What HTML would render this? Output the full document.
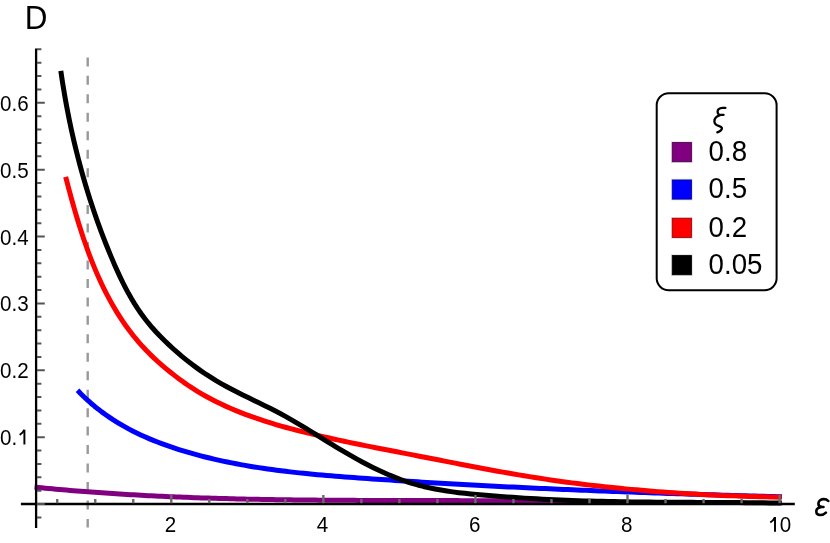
<!DOCTYPE html>
<html><head><meta charset="utf-8"><title>D vs epsilon</title>
<style>html,body{margin:0;padding:0;background:#fff;}body{width:830px;height:543px;overflow:hidden;}svg{display:block;will-change:transform;transform:translateZ(0);}text{font-family:"Liberation Sans",sans-serif;fill:#000;}</style></head><body>
<svg width="830" height="543" viewBox="0 0 830 543">
<rect x="0" y="0" width="830" height="543" fill="#ffffff"/>
<line x1="87.7" y1="57.4" x2="87.7" y2="527.6" stroke="#999999" stroke-width="2.4" stroke-dasharray="9 9.46"/>
<path d="M34.56,487.08 L38.11,487.44 L41.65,487.80 L45.20,488.14 L48.74,488.48 L52.29,488.82 L55.83,489.14 L59.38,489.46 L62.92,489.78 L66.47,490.09 L70.02,490.39 L73.56,490.69 L77.11,490.98 L80.66,491.26 L84.21,491.54 L87.76,491.81 L91.30,492.08 L94.85,492.34 L98.40,492.60 L101.95,492.85 L105.50,493.10 L109.05,493.34 L112.60,493.57 L116.15,493.80 L119.70,494.02 L123.25,494.24 L126.81,494.46 L130.36,494.66 L133.91,494.87 L137.46,495.07 L141.01,495.26 L144.56,495.45 L148.12,495.64 L151.67,495.81 L155.22,495.99 L158.78,496.16 L162.33,496.33 L165.88,496.49 L169.44,496.65 L172.99,496.80 L176.55,496.95 L180.10,497.09 L183.65,497.23 L187.21,497.37 L190.76,497.50 L194.32,497.63 L197.88,497.76 L201.43,497.88 L204.99,498.00 L208.54,498.11 L212.10,498.22 L215.65,498.33 L219.21,498.43 L222.77,498.53 L226.32,498.62 L229.88,498.72 L233.44,498.81 L236.99,498.89 L240.55,498.98 L244.11,499.06 L247.67,499.14 L251.22,499.21 L254.78,499.28 L258.34,499.35 L261.90,499.42 L265.46,499.48 L269.01,499.54 L272.57,499.60 L276.13,499.65 L279.69,499.71 L283.25,499.76 L286.81,499.81 L290.37,499.85 L293.93,499.90 L297.48,499.94 L301.04,499.98 L304.60,500.02 L308.16,500.05 L311.72,500.09 L315.28,500.12 L318.84,500.15 L322.40,500.18 L325.96,500.20 L329.52,500.23 L333.08,500.25 L336.64,500.28 L340.20,500.30 L343.76,500.32 L347.32,500.34 L350.88,500.35 L354.44,500.37 L358.00,500.38 L361.56,500.40 L365.12,500.41 L368.68,500.42 L372.24,500.43 L375.80,500.45 L379.36,500.46 L382.92,500.46 L386.48,500.47 L390.04,500.48 L393.60,500.49 L397.16,500.50 L400.72,500.50 L404.28,500.51 L407.84,500.52 L411.40,500.52 L414.96,500.53 L418.52,500.53 L422.08,500.54 L425.64,500.55 L429.20,500.55 L432.76,500.56 L436.32,500.57 L439.88,500.57 L443.44,500.58 L447.00,500.59 L450.56,500.60 L454.12,500.61 L457.68,500.62 L461.24,500.63 L464.80,500.64 L468.36,500.65 L471.92,500.66 L475.48,500.68 L479.04,500.69 L482.59,500.71 L486.15,500.72 L489.71,500.74 L493.27,500.76 L496.83,500.78 L500.39,500.80 L503.95,500.83 L507.51,500.85 L511.06,500.88 L514.62,500.91 L518.18,500.94 L521.74,500.97 L525.30,501.00 L528.85,501.04 L532.41,501.08 L535.97,501.12 L539.53,501.16 L543.08,501.20 L546.64,501.25 L550.20,501.29 L553.75,501.34 L557.31,501.40 L560.87,501.45 L564.42,501.51 L567.98,501.57 L571.54,501.63 L575.09,501.70 L578.65,501.77 L582.20,501.84 L585.76,501.91 L589.31,501.99 L592.87,502.07 L596.42,502.15 L599.98,502.23" fill="none" stroke="#800080" stroke-width="5.0" stroke-linecap="butt" stroke-linejoin="round"/>
<path d="M77.53,390.29 L80.79,393.68 L84.12,396.97 L87.51,400.15 L90.97,403.23 L94.49,406.21 L98.07,409.09 L101.70,411.87 L105.39,414.56 L109.14,417.16 L112.93,419.67 L116.78,422.09 L120.67,424.43 L124.60,426.68 L128.58,428.86 L132.60,430.95 L136.66,432.97 L140.76,434.92 L144.89,436.80 L149.05,438.61 L153.24,440.35 L157.46,442.03 L161.71,443.65 L165.98,445.21 L170.28,446.71 L174.59,448.16 L178.92,449.56 L183.26,450.90 L187.62,452.20 L191.99,453.45 L196.38,454.66 L200.77,455.83 L205.17,456.96 L209.58,458.04 L214.00,459.09 L218.42,460.10 L222.86,461.07 L227.30,462.01 L231.76,462.91 L236.22,463.77 L240.68,464.60 L245.16,465.40 L249.64,466.17 L254.13,466.91 L258.62,467.62 L263.12,468.30 L267.63,468.96 L272.14,469.59 L276.65,470.19 L281.17,470.77 L285.70,471.33 L290.23,471.86 L294.76,472.37 L299.30,472.87 L303.84,473.34 L308.38,473.80 L312.93,474.24 L317.48,474.67 L322.03,475.07 L326.59,475.47 L331.14,475.85 L335.70,476.22 L340.26,476.58 L344.82,476.94 L349.38,477.28 L353.94,477.61 L358.50,477.94 L363.06,478.26 L367.62,478.58 L372.18,478.89 L376.73,479.20 L381.29,479.51 L385.85,479.81 L390.40,480.11 L394.96,480.41 L399.51,480.71 L404.07,481.00 L408.62,481.28 L413.17,481.57 L417.73,481.85 L422.28,482.13 L426.83,482.41 L431.38,482.68 L435.93,482.95 L440.48,483.21 L445.03,483.48 L449.58,483.74 L454.12,484.00 L458.67,484.25 L463.22,484.50 L467.77,484.75 L472.31,485.00 L476.86,485.24 L481.41,485.49 L485.95,485.72 L490.50,485.96 L495.04,486.19 L499.59,486.42 L504.13,486.65 L508.68,486.88 L513.22,487.10 L517.77,487.32 L522.31,487.54 L526.86,487.76 L531.40,487.97 L535.94,488.18 L540.49,488.39 L545.03,488.60 L549.58,488.80 L554.12,489.00 L558.67,489.20 L563.21,489.40 L567.76,489.60 L572.30,489.79 L576.85,489.98 L581.39,490.17 L585.94,490.36 L590.48,490.54 L595.03,490.72 L599.58,490.91 L604.12,491.08 L608.67,491.26 L613.22,491.44 L617.76,491.61 L622.31,491.78 L626.86,491.95 L631.41,492.12 L635.96,492.29 L640.51,492.45 L645.06,492.61 L649.61,492.77 L654.16,492.93 L658.71,493.09 L663.27,493.25 L667.82,493.40 L672.37,493.55 L676.93,493.71 L681.48,493.86 L686.04,494.00 L690.60,494.15 L695.15,494.30 L699.71,494.44 L704.27,494.59 L708.83,494.73 L713.39,494.87 L717.95,495.01 L722.51,495.14 L727.08,495.28 L731.64,495.42 L736.21,495.55 L740.77,495.68 L745.34,495.82 L749.91,495.95 L754.48,496.08 L759.05,496.21 L763.62,496.34 L768.19,496.46 L772.76,496.59 L777.34,496.71 L781.91,496.84" fill="none" stroke="#0000ff" stroke-width="5.0" stroke-linecap="butt" stroke-linejoin="round"/>
<path d="M65.64,176.83 L66.97,181.93 L68.33,187.05 L69.70,192.19 L71.11,197.34 L72.54,202.50 L74.00,207.67 L75.50,212.84 L77.04,218.02 L78.61,223.19 L80.23,228.36 L81.90,233.52 L83.61,238.67 L85.38,243.81 L87.19,248.92 L89.07,254.02 L91.00,259.09 L93.00,264.13 L95.06,269.15 L97.19,274.13 L99.39,279.07 L101.66,283.97 L104.01,288.83 L106.44,293.64 L108.95,298.40 L111.54,303.11 L114.22,307.76 L116.99,312.36 L119.85,316.89 L122.80,321.35 L125.86,325.75 L129.01,330.07 L132.27,334.32 L135.63,338.49 L139.10,342.57 L142.68,346.58 L146.37,350.49 L150.17,354.33 L154.06,358.08 L158.04,361.74 L162.11,365.33 L166.25,368.84 L170.47,372.27 L174.75,375.63 L179.09,378.90 L183.48,382.09 L187.94,385.18 L192.45,388.17 L197.02,391.05 L201.64,393.81 L206.31,396.47 L211.04,399.03 L215.81,401.48 L220.62,403.84 L225.48,406.11 L230.38,408.29 L235.32,410.38 L240.29,412.40 L245.30,414.33 L250.34,416.19 L255.41,417.98 L260.50,419.71 L265.62,421.37 L270.76,422.98 L275.93,424.53 L281.11,426.03 L286.31,427.48 L291.52,428.89 L296.74,430.25 L301.98,431.59 L307.22,432.89 L312.46,434.16 L317.71,435.40 L322.97,436.62 L328.23,437.81 L333.49,438.98 L338.76,440.12 L344.04,441.25 L349.31,442.36 L354.59,443.45 L359.87,444.53 L365.16,445.60 L370.45,446.65 L375.74,447.70 L381.03,448.74 L386.32,449.77 L391.62,450.80 L396.91,451.82 L402.21,452.85 L407.50,453.87 L412.80,454.90 L418.09,455.93 L423.38,456.96 L428.68,458.00 L433.97,459.03 L439.26,460.07 L444.56,461.11 L449.85,462.14 L455.15,463.17 L460.44,464.20 L465.74,465.22 L471.03,466.24 L476.33,467.25 L481.63,468.24 L486.93,469.23 L492.24,470.21 L497.54,471.18 L502.85,472.13 L508.16,473.07 L513.47,473.99 L518.78,474.89 L524.10,475.78 L529.42,476.65 L534.74,477.50 L540.07,478.33 L545.40,479.13 L550.73,479.92 L556.07,480.68 L561.41,481.43 L566.75,482.16 L572.09,482.86 L577.44,483.55 L582.79,484.21 L588.14,484.86 L593.49,485.49 L598.85,486.10 L604.21,486.69 L609.57,487.26 L614.93,487.82 L620.30,488.35 L625.67,488.87 L631.04,489.37 L636.41,489.85 L641.78,490.32 L647.15,490.77 L652.53,491.20 L657.91,491.62 L663.29,492.02 L668.67,492.40 L674.05,492.77 L679.43,493.12 L684.81,493.46 L690.20,493.78 L695.58,494.09 L700.97,494.38 L706.35,494.66 L711.74,494.92 L717.13,495.17 L722.52,495.41 L727.91,495.63 L733.30,495.83 L738.69,496.03 L744.08,496.21 L749.46,496.38 L754.85,496.53 L760.24,496.67 L765.63,496.80 L771.02,496.92 L776.41,497.03 L781.80,497.12" fill="none" stroke="#ff0000" stroke-width="5.0" stroke-linecap="butt" stroke-linejoin="round"/>
<path d="M60.81,70.92 L61.69,76.87 L62.60,82.80 L63.56,88.72 L64.56,94.64 L65.59,100.54 L66.68,106.43 L67.80,112.32 L68.96,118.19 L70.17,124.05 L71.42,129.90 L72.72,135.74 L74.06,141.57 L75.44,147.38 L76.87,153.18 L78.34,158.98 L79.86,164.75 L81.42,170.52 L83.03,176.27 L84.69,182.01 L86.39,187.74 L88.14,193.45 L89.93,199.15 L91.78,204.84 L93.67,210.51 L95.61,216.17 L97.59,221.81 L99.63,227.44 L101.72,233.05 L103.85,238.65 L106.04,244.23 L108.28,249.79 L110.56,255.34 L112.90,260.88 L115.29,266.39 L117.75,271.87 L120.29,277.32 L122.91,282.72 L125.63,288.05 L128.45,293.32 L131.40,298.51 L134.47,303.62 L137.68,308.63 L141.03,313.53 L144.55,318.32 L148.23,322.98 L152.08,327.52 L156.08,331.95 L160.19,336.27 L164.41,340.51 L168.73,344.66 L173.13,348.72 L177.63,352.70 L182.20,356.58 L186.86,360.36 L191.60,364.05 L196.42,367.62 L201.31,371.09 L206.28,374.45 L211.32,377.69 L216.43,380.82 L221.61,383.82 L226.84,386.72 L232.12,389.53 L237.44,392.26 L242.79,394.94 L248.15,397.59 L253.53,400.21 L258.91,402.82 L264.27,405.45 L269.62,408.11 L274.94,410.81 L280.22,413.57 L285.46,416.41 L290.65,419.34 L295.80,422.32 L300.92,425.37 L306.02,428.46 L311.10,431.58 L316.19,434.72 L321.28,437.87 L326.39,441.02 L331.51,444.16 L336.65,447.28 L341.81,450.36 L347.00,453.41 L352.21,456.40 L357.45,459.34 L362.73,462.21 L368.03,464.99 L373.37,467.69 L378.75,470.30 L384.17,472.79 L389.63,475.17 L395.14,477.42 L400.69,479.53 L406.30,481.50 L411.96,483.31 L417.67,484.96 L423.43,486.45 L429.24,487.78 L435.09,488.98 L440.98,490.06 L446.90,491.02 L452.85,491.88 L458.82,492.65 L464.81,493.34 L470.80,493.96 L476.81,494.53 L482.81,495.05 L488.81,495.55 L494.80,496.02 L500.78,496.48 L506.75,496.92 L512.72,497.34 L518.68,497.74 L524.64,498.12 L530.60,498.49 L536.55,498.83 L542.50,499.16 L548.46,499.46 L554.42,499.75 L560.38,500.01 L566.35,500.25 L572.32,500.48 L578.29,500.69 L584.26,500.88 L590.24,501.05 L596.22,501.21 L602.20,501.36 L608.19,501.49 L614.17,501.60 L620.16,501.71 L626.15,501.81 L632.14,501.89 L638.13,501.97 L644.12,502.03 L650.11,502.09 L656.11,502.14 L662.10,502.19 L668.09,502.23 L674.09,502.27 L680.08,502.30 L686.08,502.33 L692.07,502.36 L698.06,502.39 L704.05,502.41 L710.04,502.44 L716.03,502.47 L722.02,502.50 L728.01,502.53 L733.99,502.57 L739.98,502.62 L745.96,502.66 L751.94,502.72 L757.91,502.78 L763.89,502.85 L769.86,502.93 L775.82,503.02 L781.79,503.12" fill="none" stroke="#000000" stroke-width="5.0" stroke-linecap="butt" stroke-linejoin="round"/>
<line x1="36.1" y1="48.4" x2="36.1" y2="527.9" stroke="#000" stroke-width="2.3"/>
<line x1="20.9" y1="504.0" x2="794.8" y2="504.0" stroke="#000" stroke-width="2.3"/>
<path d="M36.95,517.42H41.4M36.95,504.05H44.8M36.95,490.68H41.4M36.95,477.30H41.4M36.95,463.93H41.4M36.95,450.55H41.4M36.95,437.18H44.8M36.95,423.81H41.4M36.95,410.43H41.4M36.95,397.06H41.4M36.95,383.68H41.4M36.95,370.31H44.8M36.95,356.94H41.4M36.95,343.56H41.4M36.95,330.19H41.4M36.95,316.81H41.4M36.95,303.44H44.8M36.95,290.07H41.4M36.95,276.69H41.4M36.95,263.32H41.4M36.95,249.94H41.4M36.95,236.57H44.8M36.95,223.20H41.4M36.95,209.82H41.4M36.95,196.45H41.4M36.95,183.07H41.4M36.95,169.70H44.8M36.95,156.33H41.4M36.95,142.95H41.4M36.95,129.58H41.4M36.95,116.20H41.4M36.95,102.83H44.8M36.95,89.46H41.4M36.95,76.08H41.4M36.95,62.71H41.4M36.95,49.33H41.4" fill="none" stroke="#555555" stroke-width="2.0"/>
<path d="M57.22,503.15V499.0M95.24,503.15V499.0M133.26,503.15V499.0M171.28,503.15V495.1M209.30,503.15V499.0M247.32,503.15V499.0M285.34,503.15V499.0M323.36,503.15V495.1M361.38,503.15V499.0M399.40,503.15V499.0M437.42,503.15V499.0M475.44,503.15V495.1M513.46,503.15V499.0M551.48,503.15V499.0M589.50,503.15V499.0M627.52,503.15V495.1M665.54,503.15V499.0M703.56,503.15V499.0M741.58,503.15V499.0M779.60,503.15V495.1" fill="none" stroke="#6a6a6a" stroke-width="2.4"/>
<text transform="translate(17.15,445.18) scale(1,1.1)" font-size="20.6" text-anchor="end">0.</text>
<path d="M24.40,429.68V444.48" fill="none" stroke="#000" stroke-width="1.95"/><path d="M19.65,434.88Q22.80,433.28 24.25,429.88" fill="none" stroke="#000" stroke-width="1.9"/>
<text transform="translate(28.6,378.31) scale(1,1.1)" font-size="20.6" text-anchor="end">0.2</text>
<text transform="translate(28.6,311.44) scale(1,1.1)" font-size="20.6" text-anchor="end">0.3</text>
<text transform="translate(28.6,244.57) scale(1,1.1)" font-size="20.6" text-anchor="end">0.4</text>
<text transform="translate(28.6,177.70) scale(1,1.1)" font-size="20.6" text-anchor="end">0.5</text>
<text transform="translate(28.6,110.83) scale(1,1.1)" font-size="20.6" text-anchor="end">0.6</text>
<text transform="translate(170.48,532.0) scale(1,1.1)" font-size="20.6" text-anchor="middle">2</text>
<text transform="translate(322.56,532.0) scale(1,1.1)" font-size="20.6" text-anchor="middle">4</text>
<text transform="translate(474.64,532.0) scale(1,1.1)" font-size="20.6" text-anchor="middle">6</text>
<text transform="translate(626.72,532.0) scale(1,1.1)" font-size="20.6" text-anchor="middle">8</text>
<text transform="translate(785.4,532.0) scale(1,1.1)" font-size="20.6" text-anchor="middle">0</text>
<path d="M775.00,517.10V531.70" fill="none" stroke="#000" stroke-width="1.95"/><path d="M770.25,522.30Q773.40,520.70 774.85,517.30" fill="none" stroke="#000" stroke-width="1.9"/>
<text transform="translate(24.7,29.1) scale(1,1.05)" font-size="31.4">D</text>
<path d="M828.3,501.0 C827,499.6 825.5,499.1 823.8,499.1 C821,499.1 818.6,500.8 818.4,503.3 C818.3,505.4 819.8,506.8 821.8,506.9 L823.5,506.9 M821.5,506.9 C818.5,507.3 816.3,509.0 816.3,511.5 C816.3,513.7 818,514.9 820.3,514.9 C822.6,514.9 824.5,514.1 825.9,512.6" fill="none" stroke="#000" stroke-width="2.55" stroke-linecap="round" stroke-linejoin="round"/>
<rect x="656.7" y="93.3" width="119.9" height="197.0" rx="12" ry="12" fill="#fff" stroke="#000" stroke-width="2"/>
<path d="M725.4,107.9 L722.5,107.9 C720,108.1 717.7,109.5 717.6,111.6 C717.5,113.6 718.8,114.8 720.5,114.85 L723.6,114.85 M720.6,114.9 C717.5,115.8 714.4,118.2 714.4,121.3 C714.4,123.8 716.2,125.2 718.6,125.9 C720.6,126.5 721.9,127.0 721.9,128.2 C721.9,130.0 719.5,131.5 717.3,132.3" fill="none" stroke="#000" stroke-width="2.3" stroke-linecap="round" stroke-linejoin="round"/>
<rect x="672.3" y="142.6" width="19.1" height="19.1" fill="none" stroke="#000" stroke-opacity="0.13" stroke-width="2.6"/>
<rect x="672.3" y="142.6" width="19.1" height="19.1" fill="#800080" stroke="#4d004d" stroke-width="0.9"/>
<text transform="translate(708.6,161.0) scale(1,1.083)" font-size="27.7">0.8</text>
<rect x="672.3" y="180.0" width="19.1" height="19.1" fill="none" stroke="#000" stroke-opacity="0.13" stroke-width="2.6"/>
<rect x="672.3" y="180.0" width="19.1" height="19.1" fill="#0000ff" stroke="#00009c" stroke-width="0.9"/>
<text transform="translate(708.6,198.4) scale(1,1.083)" font-size="27.7">0.5</text>
<rect x="672.3" y="218.3" width="19.1" height="19.1" fill="none" stroke="#000" stroke-opacity="0.13" stroke-width="2.6"/>
<rect x="672.3" y="218.3" width="19.1" height="19.1" fill="#ff0000" stroke="#a00000" stroke-width="0.9"/>
<text transform="translate(708.6,236.7) scale(1,1.083)" font-size="27.7">0.2</text>
<rect x="672.3" y="255.6" width="19.1" height="19.1" fill="none" stroke="#000" stroke-opacity="0.13" stroke-width="2.6"/>
<rect x="672.3" y="255.6" width="19.1" height="19.1" fill="#000000" stroke="#000000" stroke-width="0.9"/>
<text transform="translate(708.6,274.0) scale(1,1.083)" font-size="27.7">0.05</text>
</svg></body></html>
